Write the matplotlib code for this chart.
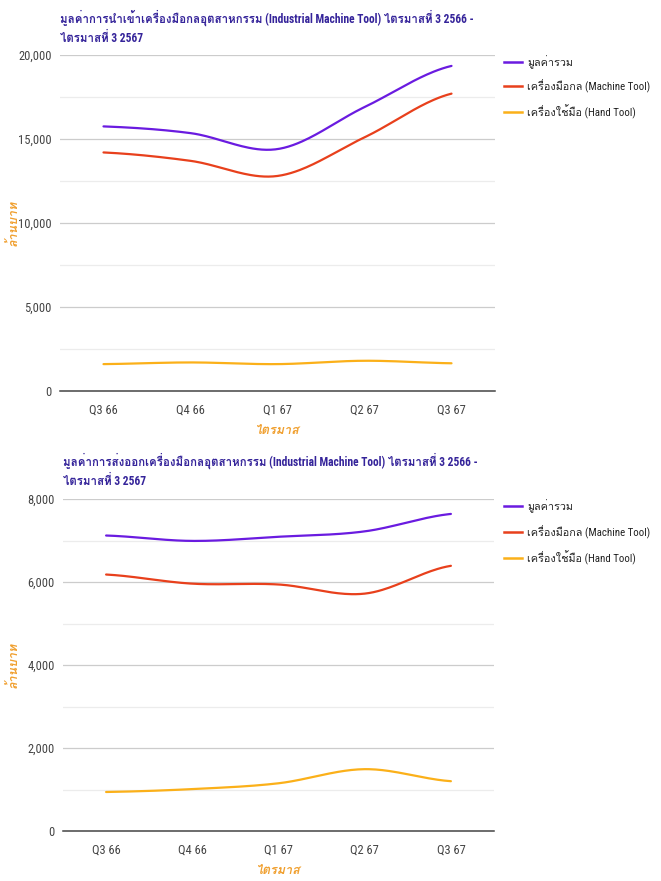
import numpy as np
import matplotlib
matplotlib.use("Agg")
import matplotlib.pyplot as plt
from matplotlib import font_manager as fm
from matplotlib.lines import Line2D

# ---- data (million baht) ----
quarters = ["Q3 66", "Q4 66", "Q1 67", "Q2 67", "Q3 67"]

import_total = [15750, 15350, 14400, 16900, 19350]
import_machine = [14200, 13700, 12800, 15100, 17700]
import_hand = [1600, 1700, 1600, 1800, 1650]

export_total = [7120, 6990, 7090, 7220, 7640]
export_machine = [6180, 5960, 5940, 5720, 6390]
export_hand = [940, 1010, 1150, 1490, 1200]

series_names = ["มูลค่ารวม", "เครื่องมือกล (Machine Tool)", "เครื่องใช้มือ (Hand Tool)"]
title_import = "มูลค่าการนำเข้าเครื่องมือกลอุตสาหกรรม (Industrial Machine Tool) ไตรมาสที่ 3 2566 -\nไตรมาสที่ 3 2567"
title_export = "มูลค่าการส่งออกเครื่องมือกลอุตสาหกรรม (Industrial Machine Tool) ไตรมาสที่ 3 2566 -\nไตรมาสที่ 3 2567"
y_title = "ล้านบาท"
x_title = "ไตรมาส"

# ---- fonts ----
available = {f.name for f in fm.fontManager.ttflist}


def first_available(names, default):
    for n in names:
        if n in available:
            return n
    return default


latin_font = first_available(["Liberation Sans Narrow", "Roboto Condensed", "Arial Narrow",
                              "Liberation Sans"], "DejaVu Sans")
thai_font = first_available(["Loma", "Tahoma", "Noto Sans Thai", "Sarabun", "Athiti"], "DejaVu Sans")
families = [latin_font, thai_font, "DejaVu Sans"]
plt.rcParams["font.family"] = families

COL_TOTAL = "#6a1be0"
COL_MACHINE = "#e8401c"
COL_HAND = "#fbb019"
COL_TITLE = "#35249a"
COL_AXTITLE = "#f0a030"


def smooth(xs, ys, n=40):
    """Cardinal-spline smoothing between consecutive points."""
    xs = np.asarray(xs, float)
    ys = np.asarray(ys, float)
    px = np.concatenate([[2 * xs[0] - xs[1]], xs, [2 * xs[-1] - xs[-2]]])
    py = np.concatenate([[ys[0]], ys, [ys[-1]]])
    out_x, out_y = [], []
    t = np.linspace(0, 1, n)
    for i in range(1, len(px) - 2):
        p0, p1, p2, p3 = (np.array([px[j], py[j]]) for j in range(i - 1, i + 3))
        m1 = (p2 - p0) * 0.5
        m2 = (p3 - p1) * 0.5
        h00 = 2 * t**3 - 3 * t**2 + 1
        h10 = t**3 - 2 * t**2 + t
        h01 = -2 * t**3 + 3 * t**2
        h11 = t**3 - t**2
        pts = (np.outer(h00, p1) + np.outer(h10, m1) + np.outer(h01, p2) + np.outer(h11, m2))
        out_x.extend(pts[:, 0])
        out_y.extend(pts[:, 1])
    return np.array(out_x), np.array(out_y)


W, H = 661, 881
fig = plt.figure(figsize=(W / 100, H / 100), dpi=100)


def px_box(left, top, right, bottom):
    return [left / W, 1 - bottom / H, (right - left) / W, (bottom - top) / H]


def draw_panel(box, title, title_y, totals, machines, hands, ymax, ystep, legend_ys):
    ax = fig.add_axes(px_box(*box))
    x = np.arange(len(quarters))
    for vals, col in ((hands, COL_HAND), (machines, COL_MACHINE), (totals, COL_TOTAL)):
        sx, sy = smooth(x, vals)
        ax.plot(sx, sy, color=col, lw=1.6, solid_capstyle="round", zorder=3)
    ax.set_xlim(-0.5, len(quarters) - 0.5)
    ax.set_ylim(0, ymax)
    major = np.arange(0, ymax + 1, ystep)
    minor = np.arange(ystep / 2, ymax, ystep)
    for v in minor:
        ax.axhline(v, color="#ececec", lw=0.9, zorder=1)
    for v in major[1:]:
        ax.axhline(v, color="#cccccc", lw=0.9, zorder=1)
    ax.axhline(0, color="#444444", lw=1.1, zorder=2, clip_on=False)
    ax.set_yticks(major)
    ax.set_yticklabels([f"{int(v):,}" for v in major])
    ax.set_xticks(x)
    ax.set_xticklabels(quarters)
    ax.tick_params(length=0, labelsize=9, colors="#444444", pad=6)
    ax.tick_params(axis="x", pad=9)
    for s in ax.spines.values():
        s.set_visible(False)
    ax.set_facecolor("none")

    left, top, right, bottom = box
    fig.text(left / W, 1 - title_y / H, title, ha="left", va="top", fontsize=8.3,
             fontweight="bold", color=COL_TITLE, linespacing=1.55)
    fig.text(13 / W, 1 - (top + bottom) / 2 / H, y_title, rotation=90, ha="center",
             va="center", fontsize=9, style="italic", fontweight="bold", color=COL_AXTITLE)
    fig.text((left + right) / 2 / W, 1 - (bottom + 40) / H, x_title, ha="center",
             va="center", fontsize=9, style="italic", fontweight="bold", color=COL_AXTITLE)
    for name, col, ly in zip(series_names, (COL_TOTAL, COL_MACHINE, COL_HAND), legend_ys):
        fig.add_artist(Line2D([504 / W, 522 / W], [1 - ly / H, 1 - ly / H], color=col,
                              lw=1.8, transform=fig.transFigure))
        fig.text(527 / W, 1 - ly / H, name, ha="left", va="center", fontsize=7.8,
                 color="#222222")
    return ax


draw_panel((60, 55, 495, 391), title_import, 10, import_total, import_machine, import_hand,
           20000, 5000, (62, 86, 112))
draw_panel((63, 499, 494, 831), title_export, 453, export_total, export_machine, export_hand,
           8000, 2000, (506, 532, 558))

fig.savefig("out.png", dpi=100)
